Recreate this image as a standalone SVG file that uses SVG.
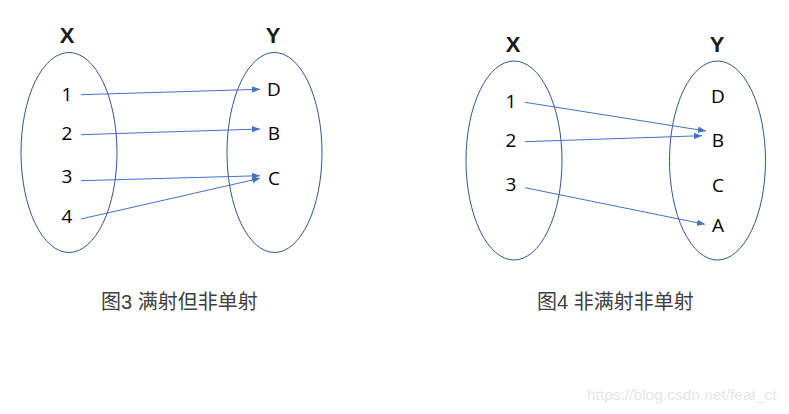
<svg xmlns="http://www.w3.org/2000/svg" width="789" height="414" viewBox="0 0 789 414">
<defs>
<marker id="ah" viewBox="0 0 10 8" refX="10" refY="4" markerWidth="8" markerHeight="6.4" markerUnits="userSpaceOnUse" orient="auto">
<path d="M0,0 L10,4 L0,8 z" fill="#4472C4"/>
</marker>
<style>
.set{fill:none;stroke:#2F5597;stroke-width:1}
.title{font-family:"Liberation Sans",Arial,sans-serif;font-weight:bold;font-size:22px;fill:#1a1a1a;text-anchor:middle}
.el{font-family:"Open Sans","Liberation Sans",sans-serif;font-size:19px;fill:#000;text-anchor:middle}
.cap{font-family:"Liberation Sans","Noto Sans CJK SC",sans-serif;font-size:20px;fill:#404040}
.wm{font-family:"Liberation Sans",Arial,sans-serif;font-size:15.5px;fill:#e6e6e6}
.arr{stroke:#4472C4;stroke-width:1;fill:none;marker-end:url(#ah)}
</style>
</defs>
<rect width="789" height="414" fill="#fff"/>

<g id="fig3">
<g id="fig3-X">
<text class="title" x="67" y="43">X</text>
<ellipse class="set" cx="69" cy="152.5" rx="48" ry="100"/>
<text class="el" x="67" y="101">1</text>
<text class="el" x="67" y="140">2</text>
<text class="el" x="67" y="183">3</text>
<text class="el" x="67" y="223">4</text>
</g>
<g id="fig3-Y">
<text class="title" x="273" y="43">Y</text>
<ellipse class="set" cx="274.5" cy="152.5" rx="47.5" ry="100"/>
<text class="el" x="274" y="96">D</text>
<text class="el" x="274" y="140">B</text>
<text class="el" x="274" y="185">C</text>
</g>
<text class="cap" x="101" y="309">图3 满射但非单射</text>
</g>

<g id="fig4">
<g id="fig4-X">
<text class="title" x="513" y="52">X</text>
<ellipse class="set" cx="514" cy="160.5" rx="48" ry="99.5"/>
<text class="el" x="511" y="108">1</text>
<text class="el" x="511" y="147">2</text>
<text class="el" x="511" y="191">3</text>
</g>
<g id="fig4-Y">
<text class="title" x="717" y="52">Y</text>
<ellipse class="set" cx="717.5" cy="160.5" rx="48" ry="99.5"/>
<text class="el" x="718" y="103">D</text>
<text class="el" x="718" y="147">B</text>
<text class="el" x="718" y="192">C</text>
<text class="el" x="718" y="232">A</text>
</g>
<text class="cap" x="537" y="309">图4 非满射非单射</text>
</g>

<g id="connectors">
<line class="arr" x1="81" y1="94.7" x2="260" y2="89.3"/>
<line class="arr" x1="81" y1="134.7" x2="260" y2="129"/>
<line class="arr" x1="81" y1="180.7" x2="260" y2="175.7"/>
<line class="arr" x1="81" y1="219" x2="260" y2="178.3"/>
<line class="arr" x1="525" y1="102.3" x2="706" y2="131"/>
<line class="arr" x1="525" y1="141.7" x2="702" y2="135.7"/>
<line class="arr" x1="525" y1="187.7" x2="705" y2="224.3"/>
</g>

<text class="wm" x="587" y="400">https://blog.csdn.net/feat_ct</text>
</svg>
